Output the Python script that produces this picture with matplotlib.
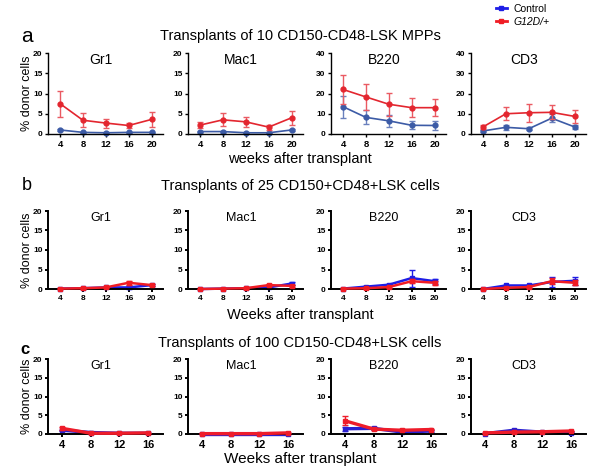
import matplotlib
matplotlib.use("Agg")
import matplotlib.pyplot as plt
from matplotlib.lines import Line2D

plt.rcParams['font.family'] = ['Liberation Sans', 'DejaVu Sans']

# --- data ---
lineages = ['Gr1', 'Mac1', 'B220', 'CD3']
weeks_ab = [4, 8, 12, 16, 20]
weeks_c = [4, 8, 12, 16]

titles = ['Transplants of 10 CD150-CD48-LSK MPPs',
          'Transplants of 25 CD150+CD48+LSK cells',
          'Transplants of 100 CD150-CD48+LSK cells']
xlabels = ['weeks after transplant', 'Weeks after transplant', 'Weeks after transplant']

# row a: 10 CD150-CD48-LSK MPPs (order: Gr1, Mac1, B220, CD3)
a_ylim = [20, 20, 40, 40]
a_ctrl = [[1.0, 0.4, 0.3, 0.4, 0.4],
          [0.6, 0.6, 0.3, 0.3, 1.0],
          [13.5, 8.2, 6.5, 4.3, 4.2],
          [1.5, 3.3, 2.6, 7.8, 3.5]]
a_ctrl_err = [[0.2, 0.1, 0.1, 0.1, 0.1],
              [0.2, 0.2, 0.1, 0.1, 0.2],
              [5.5, 3.5, 3.0, 2.0, 2.0],
              [0.5, 1.3, 0.8, 2.0, 1.0]]
a_mut = [[7.5, 3.4, 2.7, 2.1, 3.6],
         [2.2, 3.5, 3.0, 1.7, 4.0],
         [22.0, 18.3, 14.7, 13.0, 13.0],
         [3.5, 10.0, 10.5, 10.7, 8.7]]
a_mut_err = [[3.2, 1.7, 1.1, 0.7, 1.8],
             [0.7, 1.6, 1.2, 0.6, 1.8],
             [7.0, 6.3, 5.7, 4.8, 4.3],
             [1.0, 3.3, 4.5, 3.5, 3.2]]

# row b: 25 CD150+CD48+LSK cells
b_ctrl = [[0.1, 0.2, 0.4, 0.4, 1.0],
          [0.0, 0.1, 0.2, 0.4, 1.4],
          [0.1, 0.6, 1.1, 2.8, 2.0],
          [0.0, 0.9, 0.9, 1.8, 2.1]]
b_ctrl_err = [[0.05, 0.1, 0.1, 0.3, 0.2],
              [0.0, 0.05, 0.1, 0.2, 0.3],
              [0.05, 0.2, 0.3, 2.2, 0.6],
              [0.0, 0.2, 0.2, 1.3, 1.1]]
b_mut = [[0.1, 0.2, 0.4, 1.6, 1.0],
         [0.0, 0.1, 0.2, 1.0, 0.8],
         [0.1, 0.2, 0.5, 2.0, 1.6],
         [0.0, 0.3, 0.5, 2.0, 1.6]]
b_mut_err = [[0.05, 0.1, 0.1, 0.5, 0.2],
             [0.0, 0.05, 0.1, 0.2, 0.2],
             [0.05, 0.1, 0.2, 0.5, 0.5],
             [0.0, 0.1, 0.2, 0.8, 0.6]]

# row c: 100 CD150-CD48+LSK cells
c_ctrl = [[1.0, 0.4, 0.2, 0.2],
          [0.1, 0.1, 0.1, 0.1],
          [1.4, 1.5, 0.5, 0.8],
          [0.1, 1.0, 0.5, 0.4]]
c_ctrl_err = [[0.2, 0.1, 0.05, 0.05],
              [0.05, 0.05, 0.05, 0.05],
              [0.5, 0.3, 0.2, 0.2],
              [0.05, 0.2, 0.1, 0.1]]
c_mut = [[1.5, 0.2, 0.2, 0.3],
         [0.1, 0.1, 0.1, 0.3],
         [3.5, 1.3, 1.0, 1.2],
         [0.3, 0.5, 0.6, 0.8]]
c_mut_err = [[0.4, 0.05, 0.05, 0.1],
             [0.05, 0.05, 0.05, 0.1],
             [1.2, 0.2, 0.3, 0.2],
             [0.1, 0.1, 0.1, 0.1]]

fig = plt.figure(figsize=(6.0, 4.72), dpi=100)

lefts = [48, 188, 331, 471]
row_box = [(134, 53), (289, 211), (434, 359)]  # (bottom px, top px)
W, H = 600.0, 472.0

rows = [
    dict(weeks=weeks_ab, ctrl=a_ctrl, ce=a_ctrl_err, mut=a_mut, me=a_mut_err,
         ylims=a_ylim, blue='#3c5ba6', red='#e3262f', eb=('#6a80bd', '#ea5a62'),
         lw=1.2, marker='o', ms=3.5, xlim=(1.9, 22), xtfs=6.8, spine=1.0, ttlfs=10),
    dict(weeks=weeks_ab, ctrl=b_ctrl, ce=b_ctrl_err, mut=b_mut, me=b_mut_err,
         ylims=[20] * 4, blue='#1d1de6', red='#f01c24', eb=('#1d1de6', '#f01c24'),
         lw=1.8, marker='s', ms=3, xlim=(1.9, 22), xtfs=6.0, spine=1.4, ttlfs=9),
    dict(weeks=weeks_c, ctrl=c_ctrl, ce=c_ctrl_err, mut=c_mut, me=c_mut_err,
         ylims=[20] * 4, blue='#2a1fd0', red='#ee1c2a', eb=('#2a1fd0', '#ee1c2a'),
         lw=2.4, marker='s', ms=3, xlim=(2.0, 18.1), xtfs=8.0, spine=1.4, ttlfs=9),
]

for r, row in enumerate(rows):
    bot, top = row_box[r]
    for i, name in enumerate(lineages):
        ax = fig.add_axes([lefts[i] / W, 1 - bot / H, 115 / W, (bot - top) / H])
        for vals, errs, col, ecol, z in [(row['ctrl'][i], row['ce'][i], row['blue'], row['eb'][0], 2),
                                         (row['mut'][i], row['me'][i], row['red'], row['eb'][1], 3)]:
            ax.errorbar(row['weeks'], vals, yerr=errs, color=col, ecolor=ecol,
                        lw=row['lw'], marker=row['marker'], ms=row['ms'], capsize=2,
                        elinewidth=1.0, capthick=1.0, zorder=z, clip_on=False)
        ymax = row['ylims'][i]
        ax.set_ylim(0, ymax)
        ax.set_yticks(range(0, ymax + 1, ymax // 4))
        ax.set_xlim(*row['xlim'])
        ax.set_xticks(row['weeks'])
        ax.spines[['top', 'right']].set_visible(False)
        for s in ['left', 'bottom']:
            ax.spines[s].set_linewidth(row['spine'])
        ax.tick_params(axis='y', labelsize=6.0, length=2.5, width=row['spine'], pad=1.5)
        ax.tick_params(axis='x', labelsize=row['xtfs'], length=2.5, width=row['spine'], pad=2)
        for lab in ax.get_xticklabels() + ax.get_yticklabels():
            lab.set_fontweight('bold')
        ax.text(0.46, 0.91, name, transform=ax.transAxes, ha='center', va='center',
                fontsize=row['ttlfs'])
    fig.text(27 / W, 1 - ((bot + top) / 2) / H, '% donor cells', rotation=90,
             ha='center', va='center', fontsize=9)

# row titles, panel letters, x labels
fig.text(0.5, 1 - 36 / H, titles[0], ha='center', va='center', fontsize=10.5)
fig.text(0.5, 1 - 186 / H, titles[1], ha='center', va='center', fontsize=10.5)
fig.text(0.5, 1 - 343 / H, titles[2], ha='center', va='center', fontsize=10.5)
fig.text(0.5, 1 - 159 / H, xlabels[0], ha='center', va='center', fontsize=10.5)
fig.text(0.5, 1 - 315 / H, xlabels[1], ha='center', va='center', fontsize=10.5)
fig.text(0.5, 1 - 459 / H, xlabels[2], ha='center', va='center', fontsize=11)
fig.text(27 / W, 1 - 37 / H, 'a', ha='center', va='center', fontsize=15)
fig.text(27 / W, 1 - 186 / H, 'b', ha='center', va='center', fontsize=13)
fig.text(25 / W, 1 - 350 / H, 'c', ha='center', va='center', fontsize=12, fontweight='bold')

# legend
handles = [Line2D([], [], color='#1d1de6', lw=2, marker='s', ms=2.5),
           Line2D([], [], color='#f01c24', lw=2, marker='s', ms=2.5)]
leg = fig.legend(handles, ['Control', 'G12D/+'], loc='upper left',
                 bbox_to_anchor=(494 / W, 1 - 2 / H), frameon=False, fontsize=7.5,
                 handlelength=1.0, handletextpad=0.7, labelspacing=0.25,
                 borderaxespad=0, borderpad=0.2)
leg.get_texts()[1].set_fontstyle('italic')

fig.savefig('out.png', dpi=100)
